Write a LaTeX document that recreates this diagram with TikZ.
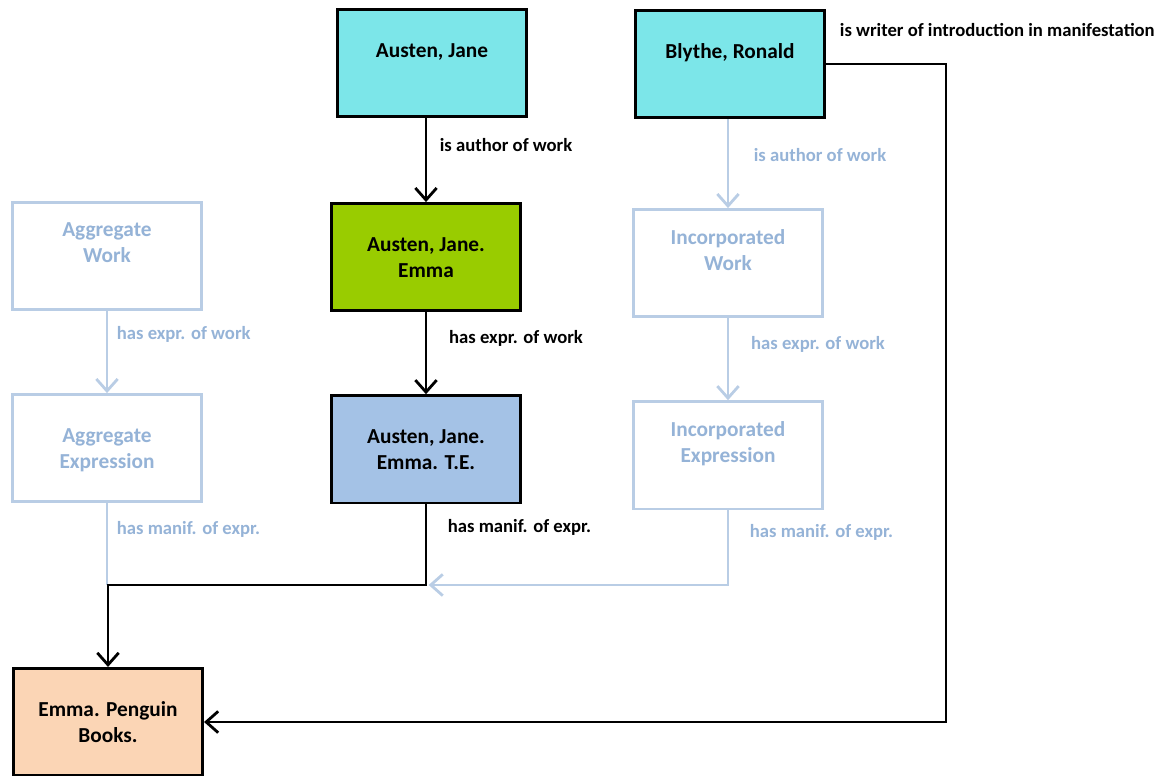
\documentclass[tikz,border=0pt]{standalone}
\usepackage{fontspec}
\setmainfont{Carlito}
\usetikzlibrary{arrows.meta, positioning}

\definecolor{personcyan}{RGB}{124,230,233}
\definecolor{workgreen}{RGB}{153,204,0}
\definecolor{exprblue}{RGB}{164,194,230}
\definecolor{manifpeach}{RGB}{251,213,181}
\definecolor{fadeline}{RGB}{185,205,229}
\definecolor{fadetext}{RGB}{149,179,215}

\newcommand{\boxfont}{\fontsize{16}{19.5}\selectfont\bfseries}
\newcommand{\relfont}{\fontsize{14}{16.5}\selectfont\bfseries}
% text sits in the upper part of each box
\newcommand{\boxtext}[2][21pt]{\parbox[c][78pt][t]{138pt}{\centering\vspace*{#1}\strut#2}}

\begin{document}
\begin{tikzpicture}[
x=0.75pt, y=-0.75pt,
node distance=61.5pt and 2cm,
% Define block styles
entity/.style = {rectangle, draw=black, line width=2.1pt, minimum width=142pt, minimum height=80.5pt, inner sep=0pt, font=\boxfont},
person/.style = {entity, fill=personcyan},
work/.style = {entity, fill=workgreen},
expression/.style = {entity, fill=exprblue},
manifestation/.style = {entity, fill=manifpeach},
ghost/.style = {entity, draw=fadeline, text=fadetext, fill=white},
rel/.style = {line width=2.1pt, -{Straight Barb[length=9pt, width=16pt]}},
fadedrel/.style = {rel, draw=fadeline},
rellabel/.style = {font=\relfont, anchor=west},
fadedlabel/.style = {rellabel, text=fadetext}
]
\useasboundingbox (0,0) rectangle (1157,775);

% Nodes
\node (austen) [person] at (432,63) {\boxtext{Austen, Jane}};
\node (blythe) [person] at (730,64) {\boxtext{Blythe, Ronald}};
\node (emma) [work, below=63pt of austen, xshift=-4.5pt] {\boxtext{Austen, Jane.\\Emma}};
\node (emmaTE) [expression, below=of emma] {\boxtext{Austen, Jane.\\Emma. T.E.}};

% Aggregate side
\node (aggWork) [ghost] at (107,256) {\boxtext[11pt]{Aggregate\\Work}};
\node (aggExpr) [ghost, below=of aggWork] {\boxtext{Aggregate\\Expression}};

% Incorporated side
\node (incWork) [ghost, below=66.75pt of blythe, xshift=-1.5pt] {\boxtext[11pt]{Incorporated\\Work}};
\node (incExpr) [ghost, below=of incWork] {\boxtext[11.5pt]{Incorporated\\Expression}};

\node (penguin) [manifestation] at (108,722) {\boxtext{Emma. Penguin\\Books.}};

\coordinate (mergeY) at (0,585);
\coordinate (writerX) at (946,0);
\coordinate (join) at (emmaTE.south |- mergeY);

% Arrows
\draw [fadedrel] (aggWork) -- node[fadedlabel, pos=0.28, xshift=3pt] {has expr. of work} (aggExpr);
\draw [fadeline, line width=2.1pt] (aggExpr.south) -- node[fadedlabel, pos=0.32, xshift=3pt] {has manif. of expr.} (aggExpr.south |- mergeY);
\draw [fadedrel] (blythe.south -| incWork.north) -- node[fadedlabel, pos=0.4, xshift=15pt] {is author of work} (incWork.north);
\draw [fadedrel] (incWork) -- node[fadedlabel, pos=0.32, xshift=13pt] {has expr. of work} (incExpr);
\draw [fadedrel] (incExpr.south) -- node[fadedlabel, pos=0.3, xshift=12pt] {has manif. of expr.} (incExpr.south |- mergeY) -- ([xshift=2pt]join);

\draw [rel] (austen.south -| emma.north) -- node[rellabel, pos=0.32, xshift=6pt] {is author of work} (emma.north);
\draw [rel] (emma) -- node[rellabel, pos=0.32, xshift=13pt] {has expr. of work} (emmaTE);
\draw [rel] (emmaTE.south) -- node[rellabel, pos=0.28, xshift=12pt] {has manif. of expr.} (join) -| (penguin.north);
\draw [rel] (blythe.east) -- node[rellabel, pos=0, anchor=south west, xshift=6pt, yshift=16pt] {is writer of introduction in manifestation} (writerX |- blythe.east) |- (penguin.east);
\end{tikzpicture}
\end{document}
